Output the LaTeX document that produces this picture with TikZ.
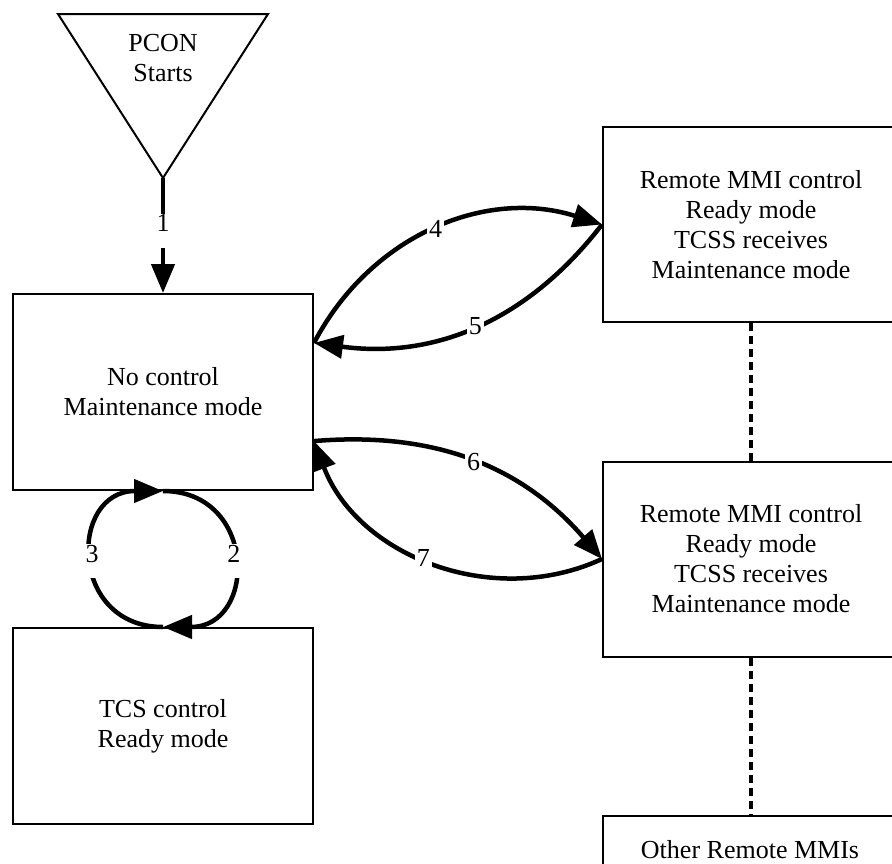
\documentclass[tikz,border=0pt]{standalone}
\usepackage{fontspec}
\setmainfont{Liberation Serif}
\usetikzlibrary{arrows.meta,calc}
\begin{document}
\begin{tikzpicture}[x=1pt,y=-1pt,
  every node/.style={font=\fontsize{26}{30}\selectfont},
  box/.style={draw, line width=2pt, minimum width=300pt, minimum height=196pt, align=center, inner sep=0pt},
  rbox/.style={box, minimum width=296pt, minimum height=195pt},
  conn/.style={line width=4.5pt, -{Triangle[length=29pt,width=23pt]}},
  lbl/.style={fill=white, inner sep=2pt},
  tlbl/.style={fill=white, inner sep=1pt, text height=17pt, text depth=15pt, anchor=north},
  dots/.style={line width=3.5pt, dash pattern=on 8pt off 5pt}
]
\useasboundingbox (0,0) rectangle (892,863);
\clip (0,0) rectangle (892,863);

% start triangle
\coordinate (tl) at (58,14);
\coordinate (tr) at (268,14);
\coordinate (apex) at (163,178);
\draw[line width=2pt, line join=miter] (tl) -- (tr) -- (apex) -- cycle;
\node[align=center] (pcon) at (163,58) {PCON\\Starts};

% boxes
\node[box] (nc) at (163,392) {No control\\Maintenance mode};
\node[box] (tcs) at (163,726) {TCS control\\Ready mode};
\node[rbox] (m1) at (751,224.5) {Remote MMI control\\Ready mode\\TCSS receives\\Maintenance mode};
\node[rbox] (m2) at (751,559) {Remote MMI control\\Ready mode\\TCSS receives\\Maintenance mode};
\node[rbox, anchor=north] (m3) at (751,815) {};
\node[inner sep=0.5pt] (m3t) at (750,850) {Other Remote MMIs};

% connectors
\draw[conn] (apex) -- node[tlbl, pos=0.29] {1} (nc.north);
\draw[conn] (nc.18) to[bend left=40] node[lbl] {4} (m1.west);
\draw[conn] (m1.west) to[bend left=30] node[lbl] {5} (nc.18);
\draw[conn] (nc.-18) to[bend left=27] node[lbl] {6} (m2.west);
\draw[conn] (m2.west) to[bend left=47] node[lbl, pos=0.53] {7} (nc.-18);
\draw[conn] (nc.south) to[out=0,in=0,looseness=1.78] node[tlbl, pos=0.5, yshift=17pt] {2} (tcs.north);
\draw[conn] (tcs.north) to[out=180,in=180,looseness=1.78] node[tlbl, pos=0.5, yshift=17pt] {3} (nc.south);

\draw[dots] (m1.south) -- (m2.north);
\draw[dots] (m2.south) -- (m3.north);
\end{tikzpicture}
\end{document}
